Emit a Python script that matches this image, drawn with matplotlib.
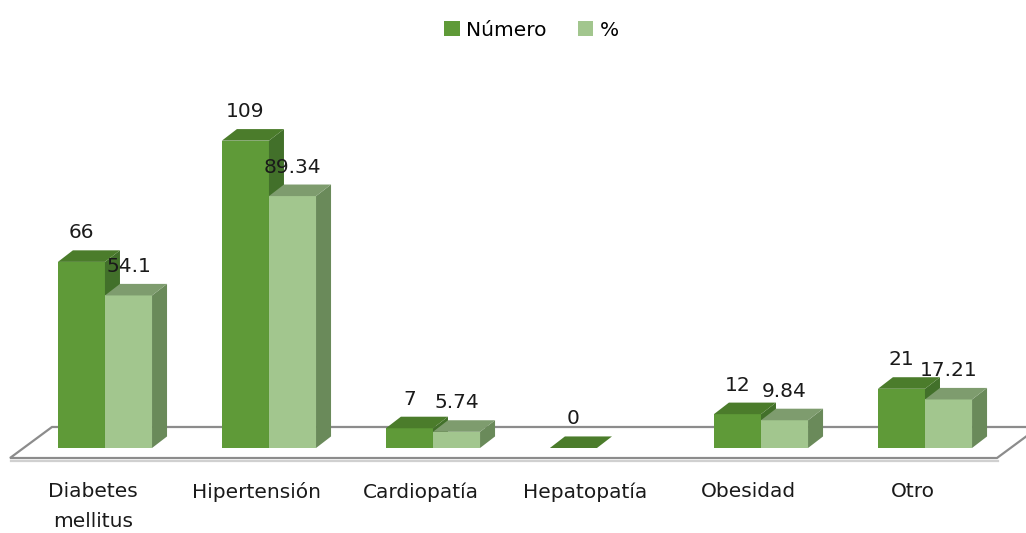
import matplotlib
matplotlib.use("Agg")
import matplotlib.pyplot as plt
from matplotlib.patches import Polygon, Patch
import numpy as np

# data
categorias = ["Diabetes\nmellitus", "Hipertensión", "Cardiopatía", "Hepatopatía", "Obesidad", "Otro"]
numero = [66, 109, 7, 0, 12, 21]
porcentaje = [54.1, 89.34, 5.74, np.nan, 9.84, 17.21]
etiquetas_num = ["66", "109", "7", "0", "12", "21"]
etiquetas_pct = ["54.1", "89.34", "5.74", "", "9.84", "17.21"]

plt.rcParams["font.family"] = ["DejaVu Sans"]
plt.rcParams["font.size"] = 14.5

# colores (frente, arriba, lado)
col_num = ("#5f9a38", "#4b7c2b", "#42702a")
col_pct = ("#a2c68e", "#7e9c6e", "#6a8a5a")

fig = plt.figure(figsize=(10.26, 5.33), dpi=100)
ax = fig.add_axes([0, 85 / 533, 1, 388 / 533])
ax.set_xlim(-0.640, 5.616)
ax.set_ylim(0, 137.6)
for s in ax.spines.values():
    s.set_visible(False)
ax.tick_params(left=False, labelleft=False, bottom=False)

w = 0.287      # ancho de barra
dx = 0.0915    # profundidad (x)
dy = 4.1       # profundidad (y)

# piso
xf0, xf1 = -0.579, 5.439
yf, yb = -3.55, 7.45
piso = Polygon([(xf0, yf), (xf1, yf), (xf1 + 0.256, yb), (xf0 + 0.256, yb)], closed=True,
               facecolor="white", edgecolor="#8c8c8c", lw=1.6, zorder=1, clip_on=False)
ax.add_patch(piso)
ax.plot([xf0 + 0.004, xf1 + 0.004], [yf - 0.9, yf - 0.9], color="#d0d0d0", lw=1.6, zorder=0.9, clip_on=False)

def barra3d(x0, v, cols, z):
    if np.isnan(v):
        return
    f, t, s = cols
    ax.bar(x0, v, width=w, align="edge", color=f, zorder=z, linewidth=0)
    ax.add_patch(Polygon([(x0 + w, 0), (x0 + w + dx, dy), (x0 + w + dx, v + dy), (x0 + w, v)],
                         closed=True, facecolor=s, lw=0, zorder=z))
    ax.add_patch(Polygon([(x0, v), (x0 + w, v), (x0 + w + dx, v + dy), (x0 + dx, v + dy)],
                         closed=True, facecolor=t, lw=0, zorder=z))

for i in range(len(categorias)):
    barra3d(i - w, numero[i], col_num, 2 + i * 0.1)
    barra3d(i, porcentaje[i], col_pct, 2.05 + i * 0.1)
    ax.text(i - w / 2, numero[i] + 10.3, etiquetas_num[i], ha="center", va="center",
            color="#1a1a1a", zorder=5)
    if etiquetas_pct[i]:
        ax.text(i + w / 2, porcentaje[i] + 10.3, etiquetas_pct[i], ha="center", va="center",
                color="#1a1a1a", zorder=5)

# etiquetas un poco a la izquierda, como en el original
ax.set_xticks(np.arange(len(categorias)) - 0.075)
ax.set_xticklabels(categorias, color="#1a1a1a", linespacing=1.7)
ax.tick_params(axis="x", pad=21)

handles = [Patch(facecolor=col_num[0], label="Número"), Patch(facecolor=col_pct[0], label="%")]
fig.legend(handles=handles, loc="upper center", bbox_to_anchor=(0.518, 0.995), ncol=2,
           frameon=False, handlelength=0.75, handleheight=0.75, handletextpad=0.3,
           columnspacing=1.6)

fig.savefig("out.png", dpi=100, facecolor="white")
